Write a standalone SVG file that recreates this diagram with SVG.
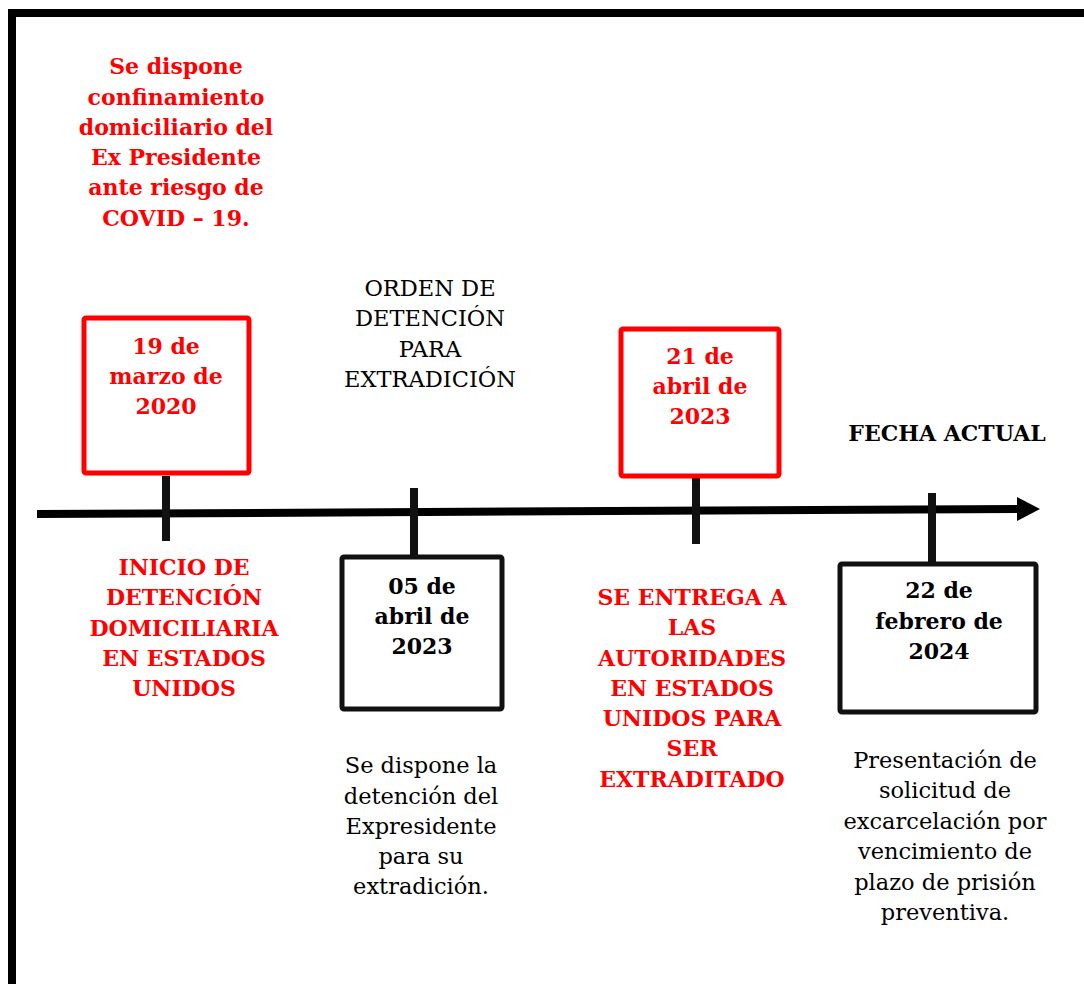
<svg xmlns="http://www.w3.org/2000/svg" width="1084" height="984" viewBox="0 0 1084 984">
<defs>
<style>
.red{fill:#ff0000;font-family:"DejaVu Serif","Liberation Serif",serif;font-weight:bold;font-size:22px;text-anchor:middle}
.blk{fill:#000;font-family:"DejaVu Serif","Liberation Serif",serif;font-weight:bold;font-size:22px;text-anchor:middle}
.txt{fill:#000;font-family:"DejaVu Serif","Liberation Serif",serif;font-size:22.5px;text-anchor:middle}
.rbox{fill:#fff;stroke:#ff0000;stroke-width:5}
.bbox{fill:#fff;stroke:#111;stroke-width:5}
.tick{stroke:#111;stroke-width:8}
</style>
<marker id="arr" markerWidth="23" markerHeight="24" refX="1" refY="12" orient="auto" markerUnits="userSpaceOnUse"><path d="M0,0 L23,12 L0,24 z" fill="#000"/></marker>
</defs>
<rect width="1084" height="984" fill="#fff"/>
<path d="M12,984 V13 H1084" fill="none" stroke="#000" stroke-width="8"/>

<g id="connectors">
<line x1="37" y1="514" x2="1018" y2="509" stroke="#000" stroke-width="8" marker-end="url(#arr)"/>
<line class="tick" x1="166" y1="476" x2="166" y2="541"/>
<line class="tick" x1="414" y1="488" x2="414" y2="557"/>
<line class="tick" x1="696" y1="474" x2="696" y2="544"/>
<line class="tick" x1="932" y1="493" x2="932" y2="563"/>
</g>

<g id="note-covid">
<text class="red" x="176" y="74">Se dispone</text>
<text class="red" x="176" y="105">confinamiento</text>
<text class="red" x="176" y="135">domiciliario del</text>
<text class="red" x="176" y="165">Ex Presidente</text>
<text class="red" x="176" y="195">ante riesgo de</text>
<text class="red" x="176" y="226">COVID – 19.</text>
</g>

<g id="node-2020">
<rect class="rbox" x="84" y="318" width="165" height="155" rx="2"/>
<text class="red" x="166" y="354">19 de</text>
<text class="red" x="166" y="384">marzo de</text>
<text class="red" x="166" y="414">2020</text>
</g>

<g id="label-inicio">
<text class="red" x="184" y="575">INICIO DE</text>
<text class="red" x="184" y="605">DETENCIÓN</text>
<text class="red" x="184" y="636">DOMICILIARIA</text>
<text class="red" x="184" y="666">EN ESTADOS</text>
<text class="red" x="184" y="696">UNIDOS</text>
</g>

<g id="label-orden">
<text class="txt" x="430" y="296">ORDEN DE</text>
<text class="txt" x="430" y="326">DETENCIÓN</text>
<text class="txt" x="430" y="357">PARA</text>
<text class="txt" x="430" y="387">EXTRADICIÓN</text>
</g>

<g id="node-05-abril-2023">
<rect class="bbox" x="342" y="557" width="160" height="152" rx="2"/>
<text class="blk" x="422" y="594">05 de</text>
<text class="blk" x="422" y="624">abril de</text>
<text class="blk" x="422" y="654">2023</text>
</g>

<g id="desc-05-abril">
<text class="txt" x="421" y="773">Se dispone la</text>
<text class="txt" x="421" y="804">detención del</text>
<text class="txt" x="421" y="834">Expresidente</text>
<text class="txt" x="421" y="864">para su</text>
<text class="txt" x="421" y="894">extradición.</text>
</g>

<g id="node-21-abril-2023">
<rect class="rbox" x="621" y="329" width="158" height="147" rx="2"/>
<text class="red" x="700" y="364">21 de</text>
<text class="red" x="700" y="394">abril de</text>
<text class="red" x="700" y="424">2023</text>
</g>

<g id="label-entrega">
<text class="red" x="692" y="605">SE ENTREGA A</text>
<text class="red" x="692" y="635">LAS</text>
<text class="red" x="692" y="666">AUTORIDADES</text>
<text class="red" x="692" y="696">EN ESTADOS</text>
<text class="red" x="692" y="726">UNIDOS PARA</text>
<text class="red" x="692" y="756">SER</text>
<text class="red" x="692" y="787">EXTRADITADO</text>
</g>

<g id="label-fecha-actual">
<text class="blk" x="947" y="441">FECHA ACTUAL</text>
</g>

<g id="node-22-febrero-2024">
<rect class="bbox" x="840" y="564" width="196" height="148" rx="2"/>
<text class="blk" x="939" y="598">22 de</text>
<text class="blk" x="939" y="629">febrero de</text>
<text class="blk" x="939" y="659">2024</text>
</g>

<g id="desc-22-febrero">
<text class="txt" x="945" y="768">Presentación de</text>
<text class="txt" x="945" y="798">solicitud de</text>
<text class="txt" x="945" y="829">excarcelación por</text>
<text class="txt" x="945" y="859">vencimiento de</text>
<text class="txt" x="945" y="890">plazo de prisión</text>
<text class="txt" x="945" y="920">preventiva.</text>
</g>
</svg>
